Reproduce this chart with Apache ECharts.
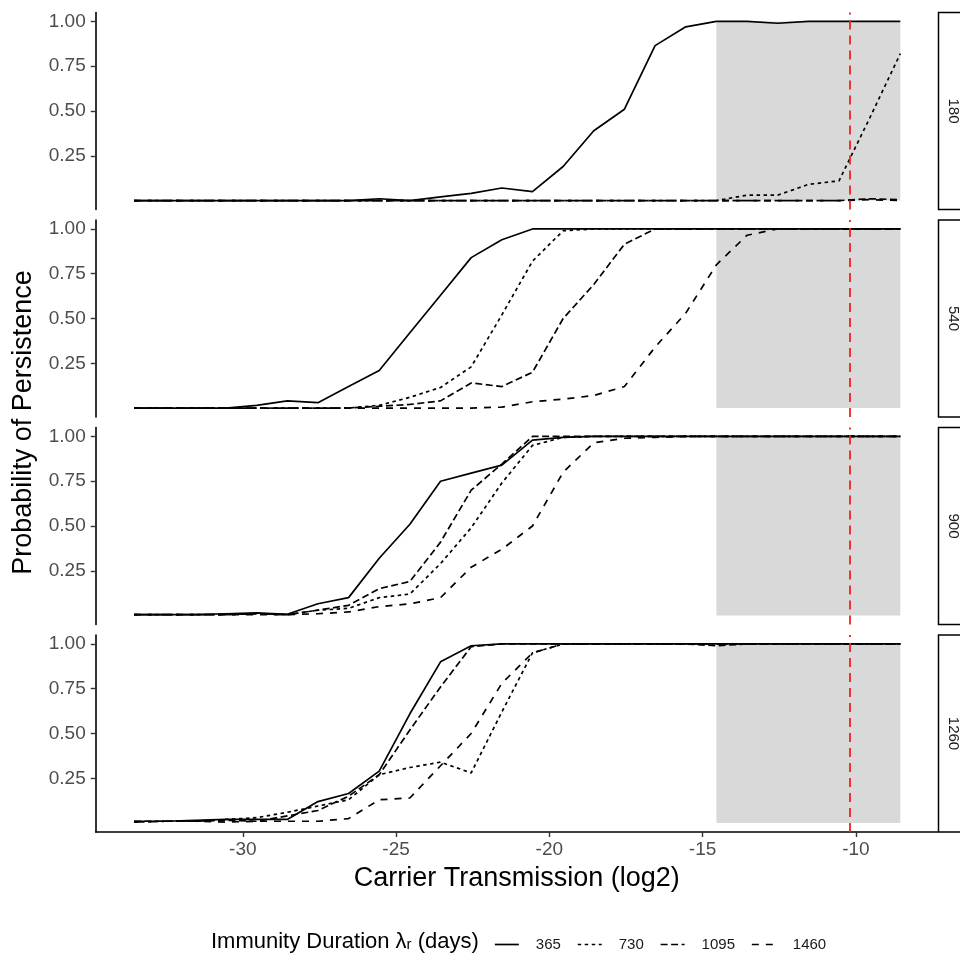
<!DOCTYPE html>
<html>
<head>
<meta charset="utf-8">
<script src="https://cdn.jsdelivr.net/npm/echarts@6/dist/echarts.min.js"></script>
<style>
  html, body { margin: 0; padding: 0; background: #fff; }
  #main { width: 960px; height: 953px; }
</style>
</head>
<body>
<div id="main"></div>
<script>
// log2 carrier transmission, one point per unit
var xValues = [-33.55, -32.55, -31.55, -30.55, -29.55, -28.55, -27.55, -26.55, -25.55, -24.55,
  -23.55, -22.55, -21.55, -20.55, -19.55, -18.55, -17.55, -16.55, -15.55, -14.55,
  -13.55, -12.55, -11.55, -10.55, -9.55, -8.55]

var panels = ['180', '540', '900', '1260']
var durations = ['365', '730', '1095', '1460']
var xTicks = [-30, -25, -20, -15, -10]
var yTicks = [0.25, 0.5, 0.75, 1]
var shadeRange = [-14.55, -8.55]
var refLine = -10.21

// panel 180
var d180_365 = [0, 0, 0, 0, 0, 0, 0, 0, 0.01, 0, 0.02, 0.04, 0.07, 0.05, 0.19, 0.39, 0.51, 0.865, 0.97, 1, 1, 0.99, 1, 1, 1, 1]
var d180_730 = [0, 0, 0, 0, 0, 0, 0, 0, 0, 0, 0, 0, 0, 0, 0, 0, 0, 0, 0, 0, 0.03, 0.03, 0.09, 0.11, 0.46, 0.82]
var d180_1095 = [0, 0, 0, 0, 0, 0, 0, 0, 0, 0, 0, 0, 0, 0, 0, 0, 0, 0, 0, 0, 0, 0, 0, 0, 0.01, 0.005]
var d180_1460 = [0, 0, 0, 0, 0, 0, 0, 0, 0, 0, 0, 0, 0, 0, 0, 0, 0, 0, 0, 0, 0, 0, 0, 0, 0.005, 0]
// panel 540
var d540_365 = [0, 0, 0, 0, 0.015, 0.04, 0.03, 0.12, 0.21, 0.42, 0.63, 0.84, 0.94, 1, 1, 1, 1, 1, 1, 1, 1, 1, 1, 1, 1, 1]
var d540_730 = [0, 0, 0, 0, 0, 0, 0, 0, 0.015, 0.06, 0.115, 0.23, 0.52, 0.82, 0.99, 1, 1, 1, 1, 1, 1, 1, 1, 1, 1, 1]
var d540_1095 = [0, 0, 0, 0, 0, 0, 0, 0, 0.01, 0.02, 0.04, 0.14, 0.12, 0.2, 0.5, 0.69, 0.915, 1, 1, 1, 1, 1, 1, 1, 1, 1]
var d540_1460 = [0, 0, 0, 0, 0, 0, 0, 0, 0, 0, 0, 0, 0.005, 0.035, 0.05, 0.07, 0.12, 0.34, 0.53, 0.8, 0.965, 1, 1, 1, 1, 1]
// panel 900
var d900_365 = [0.005, 0.005, 0.005, 0.01, 0.015, 0.007, 0.066, 0.1, 0.32, 0.51, 0.75, 0.795, 0.84, 0.98, 0.995, 1, 1, 1, 1, 1, 1, 1, 1, 1, 1, 1]
var d900_730 = [0.005, 0.005, 0.005, 0.005, 0.01, 0.005, 0.03, 0.04, 0.1, 0.12, 0.29, 0.49, 0.74, 0.95, 0.995, 1, 1, 1, 1, 1, 1, 1, 1, 1, 1, 1]
var d900_1095 = [0.005, 0.005, 0.005, 0.005, 0.01, 0.005, 0.03, 0.057, 0.15, 0.19, 0.41, 0.7, 0.846, 1, 1, 1, 1, 1, 1, 1, 1, 1, 1, 1, 1, 1]
var d900_1460 = [0.005, 0.005, 0.005, 0.005, 0.005, 0.005, 0.01, 0.02, 0.05, 0.065, 0.1, 0.27, 0.37, 0.5, 0.8, 0.965, 0.99, 0.995, 1, 1, 1, 1, 1, 1, 1, 1]
// panel 1260
var d1260_365 = [0.01, 0.01, 0.015, 0.02, 0.02, 0.02, 0.12, 0.165, 0.29, 0.61, 0.9, 0.99, 1, 1, 1, 1, 1, 1, 1, 1, 1, 1, 1, 1, 1, 1]
var d1260_730 = [0.005, 0.01, 0.01, 0.02, 0.03, 0.06, 0.095, 0.13, 0.27, 0.31, 0.34, 0.28, 0.62, 0.95, 1, 1, 1, 1, 1, 1, 1, 1, 1, 1, 1, 1]
var d1260_1095 = [0.01, 0.01, 0.01, 0.015, 0.01, 0.04, 0.07, 0.15, 0.27, 0.52, 0.76, 0.985, 1, 1, 1, 1, 1, 1, 1, 0.99, 1, 1, 1, 1, 1, 1]
var d1260_1460 = [0.005, 0.01, 0.01, 0.005, 0.01, 0.01, 0.01, 0.025, 0.13, 0.14, 0.32, 0.5, 0.78, 0.95, 1, 1, 1, 1, 1, 1, 1, 1, 1, 1, 1, 1]

var values = {
  '180': [d180_365, d180_730, d180_1095, d180_1460],
  '540': [d540_365, d540_730, d540_1095, d540_1460],
  '900': [d900_365, d900_730, d900_1095, d900_1460],
  '1260': [d1260_365, d1260_730, d1260_1095, d1260_1460],
}

var font = 'Liberation Sans'
var dashes = ['solid', [3.5, 3.5], [7, 3.5], [7, 7]]
var tops = [12.5, 220, 427.5, 635]
var panelH = 197
var left = 95.7
var right = 937.7

var grids = [], xAxes = [], yAxes = [], series = [], graphics = []

panels.forEach(function (p, i) {
  var last = i === panels.length - 1
  grids.push({ left: left, width: right - left, top: tops[i], height: panelH })
  xAxes.push({
    type: 'value', gridIndex: i, min: -34.8, max: -7.33,
    axisLine: { show: last, onZero: false, lineStyle: { color: '#000', width: 1.6 } },
    axisTick: { show: last, customValues: xTicks, length: 5, lineStyle: { color: '#333', width: 1.4 } },
    axisLabel: { show: last, customValues: xTicks, fontSize: 19, color: '#4d4d4d', margin: 8, fontFamily: font },
    splitLine: { show: false },
  })
  yAxes.push({
    type: 'value', gridIndex: i, min: -0.05, max: 1.05,
    axisLine: { show: true, lineStyle: { color: '#000', width: 1.6 } },
    axisTick: { show: true, customValues: yTicks, length: 5, lineStyle: { color: '#333', width: 1.4 } },
    axisLabel: {
      customValues: yTicks, fontSize: 19, color: '#4d4d4d', margin: 10, fontFamily: font,
      formatter: function (v) { return v.toFixed(2) },
    },
    splitLine: { show: false },
  })

  // grey band behind the curves
  series.push({
    type: 'line', xAxisIndex: i, yAxisIndex: i, data: [], z: 1, silent: true,
    markArea: {
      silent: true,
      itemStyle: { color: '#d9d9d9', opacity: 1 },
      data: [[{ xAxis: shadeRange[0], yAxis: 0 }, { xAxis: shadeRange[1], yAxis: 1 }]],
    },
  })

  durations.forEach(function (d, j) {
    var arr = values[p][j]
    series.push({
      name: d, type: 'line', xAxisIndex: i, yAxisIndex: i, z: 3,
      symbol: 'none', silent: true,
      lineStyle: { color: '#000', width: 1.7, type: dashes[j] },
      itemStyle: { color: '#000' },
      data: xValues.map(function (x, k) { return [x, arr[k]] }),
    })
  })

  // red reference line on top
  series.push({
    type: 'line', xAxisIndex: i, yAxisIndex: i, data: [], z: 5, silent: true,
    markLine: {
      silent: true, symbol: ['none', 'none'], label: { show: false },
      lineStyle: { color: '#ee2222', width: 1.8, type: [9, 6] },
      data: [{ xAxis: refLine }],
    },
  })

  // facet strip on the right
  graphics.push({
    type: 'rect', shape: { x: 938.5, y: tops[i], width: 32, height: panelH },
    style: { fill: '#fff', stroke: '#000', lineWidth: 1.5 },
  })
  graphics.push({
    type: 'text', x: 953.5, y: tops[i] + panelH / 2, rotation: -Math.PI / 2,
    style: {
      text: p, font: '15px ' + font, fill: '#1a1a1a',
      align: 'center', verticalAlign: 'middle', textAlign: 'center', textVerticalAlign: 'middle',
    },
  })
})

graphics.push({
  type: 'text', x: 24, y: 422.5, rotation: Math.PI / 2,
  style: {
    text: 'Probability of Persistence', font: '27px ' + font, fill: '#000',
    align: 'center', verticalAlign: 'middle', textAlign: 'center', textVerticalAlign: 'middle',
  },
})
graphics.push({
  type: 'text', x: (left + right) / 2, y: 879,
  style: {
    text: 'Carrier Transmission (log2)', font: '27px ' + font, fill: '#000',
    align: 'center', verticalAlign: 'middle', textAlign: 'center', textVerticalAlign: 'middle',
  },
})
graphics.push({
  type: 'text', x: 211, y: 939,
  style: {
    text: '{n|Immunity Duration λ}{s|r}{n| (days)}', fill: '#000',
    align: 'left', verticalAlign: 'middle', textAlign: 'left', textVerticalAlign: 'middle',
    rich: {
      n: { fontSize: 22, fontFamily: font, lineHeight: 27, verticalAlign: 'bottom' },
      s: { fontSize: 15, fontFamily: font, lineHeight: 15, verticalAlign: 'bottom' },
    },
  },
})

var option = {
  animation: false,
  backgroundColor: '#fff',
  textStyle: { fontFamily: font },
  grid: grids,
  xAxis: xAxes,
  yAxis: yAxes,
  legend: {
    data: durations, left: 489, top: 932, itemWidth: 24, itemHeight: 14, itemGap: 16,
    itemStyle: { opacity: 0 },
    lineStyle: { width: 1.7 },
    textStyle: { fontSize: 15, color: '#1a1a1a', fontFamily: font, padding: [0, 0, 0, 12] },
  },
  series: series,
  graphic: graphics,
}

var myChart = echarts.init(document.getElementById('main'))
myChart.setOption(option)
</script>
</body>
</html>
